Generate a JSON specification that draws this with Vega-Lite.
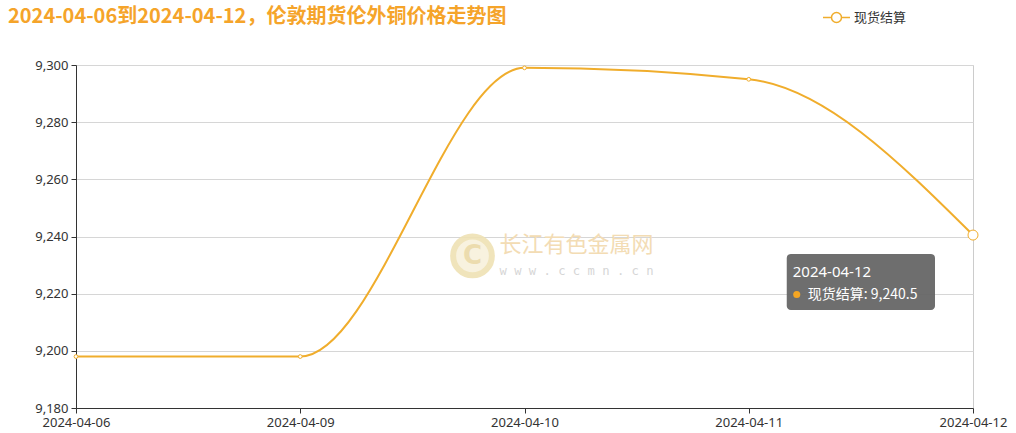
{
  "$schema": "https://vega.github.io/schema/vega-lite/v6.json",
  "autosize": "none",
  "width": 897,
  "height": 343,
  "padding": {"left": 76, "top": 65, "right": 43, "bottom": 25},
  "background": "#ffffff",
  "config": {
    "font": "Noto Sans CJK SC",
    "view": {"stroke": "#cccccc", "strokeWidth": 1}
  },
  "title": {
    "text": "2024-04-06到2024-04-12，伦敦期货伦外铜价格走势图",
    "anchor": "start",
    "frame": "group",
    "dx": -68,
    "offset": 0,
    "dy": 24,
    "fontSize": 20,
    "fontWeight": "bold",
    "color": "#f5a42a",
    "font": "Noto Sans CJK SC"
  },
  "data": {
    "values": [
      {"date": "2024-04-06", "price": 9198},
      {"date": "2024-04-09", "price": 9198},
      {"date": "2024-04-10", "price": 9299},
      {"date": "2024-04-11", "price": 9295},
      {"date": "2024-04-12", "price": 9240.5}
    ]
  },
  "encoding": {
    "x": {
      "field": "date",
      "type": "ordinal",
      "scale": {"type": "point", "padding": 0},
      "axis": {
        "title": null,
        "labelAngle": 0,
        "labelColor": "#333333",
        "labelFont": "Noto Sans",
        "labelFontSize": 13,
        "labelPadding": 3,
        "domainColor": "#333333",
        "tickColor": "#333333",
        "tickSize": 5,
        "grid": false
      }
    },
    "y": {
      "field": "price",
      "type": "quantitative",
      "scale": {"domain": [9180, 9300], "nice": false, "zero": false},
      "axis": {
        "title": null,
        "values": [9180, 9200, 9220, 9240, 9260, 9280, 9300],
        "format": ",d",
        "labelColor": "#333333",
        "labelFont": "Noto Sans",
        "labelFontSize": 13,
        "labelPadding": 3,
        "domainColor": "#333333",
        "tickColor": "#333333",
        "tickSize": 5,
        "gridColor": "#d6d6d6"
      }
    }
  },
  "layer": [
    {
      "mark": {"type": "line", "interpolate": "monotone", "strokeWidth": 2},
      "encoding": {
        "color": {
          "datum": "现货结算",
          "scale": {"range": ["#f0ad2c"]},
          "legend": {
            "title": null,
            "orient": "none",
            "legendX": 746,
            "legendY": -62,
            "symbolType": "M-1,0L-0.37,0M0.37,0L1,0M0.37,0A0.37,0.37,0,1,1,-0.37,0A0.37,0.37,0,1,1,0.37,0Z",
            "symbolSize": 729,
            "symbolFillColor": "#ffffff",
            "symbolStrokeColor": "#f0ad2c",
            "symbolStrokeWidth": 1.5,
            "labelFontSize": 13,
            "labelColor": "#333333",
            "labelOffset": 3
          }
        }
      }
    },
    {
      "mark": {"type": "point", "filled": true, "fill": "#ffffff", "stroke": "#f0ad2c", "strokeWidth": 1, "opacity": 1},
      "encoding": {
        "size": {"condition": {"test": "datum.date === '2024-04-12'", "value": 100}, "value": 14}
      }
    },
    {
      "data": {"values": [{"date": "2024-04-12", "price": 9240.5}]},
      "layer": [
        {
          "mark": {"type": "rect", "fill": "#666666", "opacity": 0.95, "cornerRadius": 4, "xOffset": 38, "x2Offset": -38},
          "encoding": {
            "x": {"datum": "2024-04-11"},
            "x2": {"datum": "2024-04-12"},
            "y": {"datum": 9233.9},
            "y2": {"datum": 9214.3}
          }
        },
        {
          "mark": {"type": "text", "align": "left", "baseline": "alphabetic", "color": "#ffffff", "font": "Noto Sans", "fontSize": 15, "dx": 44},
          "encoding": {
            "x": {"datum": "2024-04-11"},
            "y": {"datum": 9225.8},
            "text": {"field": "date"}
          }
        },
        {
          "mark": {"type": "point", "filled": true, "color": "#f5a623", "size": 50, "opacity": 1, "xOffset": 48},
          "encoding": {
            "x": {"datum": "2024-04-11"},
            "y": {"datum": 9219.7}
          }
        },
        {
          "mark": {"type": "text", "align": "left", "baseline": "alphabetic", "color": "#ffffff", "fontSize": 14, "dx": 59},
          "encoding": {
            "x": {"datum": "2024-04-11"},
            "y": {"datum": 9218.1},
            "text": {"value": "现货结算: 9,240.5"}
          }
        }
      ]
    },
    {
      "data": {"values": [{"date": "2024-04-10", "price": 9233.2, "site": "长江有色金属网", "url": "w w w . c c m n . c n"}]},
      "layer": [
        {
          "mark": {"type": "point", "shape": "circle", "stroke": "#efe2b4", "strokeWidth": 6, "fill": "#f8f1dc", "filled": true, "size": 1500, "opacity": 0.9, "xOffset": -52},
          "encoding": {"x": {"datum": "2024-04-10"}, "y": {"datum": 9233.2}}
        },
        {
          "mark": {"type": "text", "align": "center", "baseline": "middle", "color": "#ecdcae", "font": "DejaVu Sans", "fontWeight": "bold", "fontSize": 26, "dx": -52},
          "encoding": {"x": {"datum": "2024-04-10"}, "y": {"datum": 9233.2}, "text": {"value": "C"}}
        },
        {
          "mark": {"type": "text", "align": "left", "baseline": "middle", "color": "#f3dcb4", "fontSize": 22, "dx": -25},
          "encoding": {"x": {"datum": "2024-04-10"}, "y": {"datum": 9237.0}, "text": {"field": "site"}}
        },
        {
          "mark": {"type": "text", "align": "left", "baseline": "middle", "color": "#d6d6d6", "font": "DejaVu Sans Mono", "fontSize": 12.2, "dx": -25},
          "encoding": {"x": {"datum": "2024-04-10"}, "y": {"datum": 9227.8}, "text": {"field": "url"}}
        }
      ]
    }
  ]
}
